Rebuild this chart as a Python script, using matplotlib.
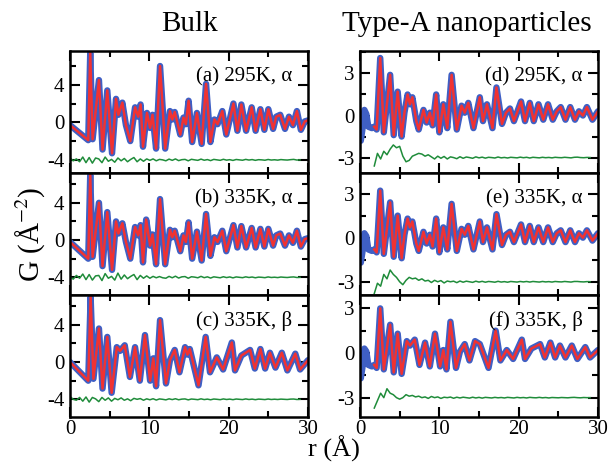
#!/usr/bin/env python3
# -*- coding: utf-8 -*-

import numpy as np
import matplotlib
matplotlib.use("Agg")
import matplotlib.pyplot as plt
from matplotlib.ticker import MultipleLocator

plt.rcParams["font.family"] = ["Liberation Serif", "DejaVu Serif"]
plt.rcParams["mathtext.fontset"] = "stix"
plt.rcParams["axes.unicode_minus"] = False

BLUE = "#3f5fc4"
RED = "#f03232"
GREEN = "#1f8c3a"

# ---- bulk, (a) 295K alpha: extrema of G(r) ----
R_A = [0.0, 2.3, 2.55, 2.85, 3.65, 4.1, 4.7, 5.3, 5.8, 6.1, 6.6, 7.05, 7.6, 8.2, 8.6, 8.9,
       9.2, 9.7, 10.1, 10.4, 10.85, 11.35, 12.0, 12.6, 12.9, 13.2, 13.9, 14.3, 14.6, 14.95,
       15.4, 16.0, 16.6, 17.15, 17.7, 18.2, 18.6, 19.2, 19.7, 20.6, 21.1, 21.6, 22.2, 22.9,
       23.4, 24.0, 24.5, 25.0, 25.6, 26.0, 26.5, 27.1, 27.6, 28.1, 28.6, 29.1, 29.6, 30.0]
G_A = [-0.3, -1.9, 7.4, -1.8, 4.5, -2.9, 3.4, -3.3, 2.5, 0.8, 2.1, -0.3, -2.0, 1.6, 0.6, 1.9,
       -2.6, 1.0, -0.6, 0.8, -2.8, 6.0, -2.8, 1.2, 0.3, 1.1, -1.3, 0.5, -0.2, 2.3,
       -2.1, 1.0, -2.3, 4.1, -2.1, 0.3, -0.2, 1.2, -1.3, 2.0, -0.9, 1.9, -0.9, 1.6,
       -0.9, 1.4, -0.8, 1.4, -0.7, 0.6, 0.8, -0.7, 0.6, -0.3, 1.2, -0.8, 0.1, 0.2]

# ---- bulk, (b) 335K alpha ----
R_B = [0.0, 2.3, 2.55, 2.85, 3.65, 4.1, 4.7, 5.3, 5.8, 6.1, 6.6, 7.05, 7.6, 8.2, 8.6, 8.9,
       9.2, 9.6, 10.1, 10.4, 10.85, 11.35, 12.0, 12.6, 12.9, 13.2, 13.9, 14.3, 14.6, 14.95,
       15.4, 16.0, 16.6, 17.15, 17.7, 18.2, 18.6, 19.2, 19.7, 20.6, 21.1, 21.6, 22.2, 22.9,
       23.4, 24.0, 24.5, 25.0, 25.6, 26.0, 26.5, 27.1, 27.6, 28.1, 28.6, 29.1, 29.6, 30.0]
G_B = [-0.2, -2.0, 7.0, -1.8, 4.0, -2.8, 3.0, -3.2, 2.0, 0.7, 1.8, -0.2, -2.0, 1.4, 0.5, 1.6,
       -2.4, 2.2, -0.6, 0.6, -2.6, 4.4, -2.6, 1.1, 0.3, 1.0, -1.2, 0.5, -0.2, 1.9,
       -2.0, 0.9, -2.2, 2.8, -1.7, 0.3, -0.2, 1.0, -1.2, 1.6, -0.8, 1.5, -0.8, 1.3,
       -0.8, 1.2, -0.7, 1.2, -0.6, 0.5, 0.7, -0.6, 0.5, -0.3, 1.0, -0.7, 0.1, 0.2]

# ---- bulk, (c) 335K beta ----
R_C = [0.0, 2.3, 2.6, 2.95, 3.65, 4.1, 4.7, 5.25, 5.9, 6.3, 6.9, 7.55, 8.2, 8.8, 9.45, 10.1,
       10.5, 10.85, 11.35, 12.1, 12.6, 13.2, 13.8, 14.5, 14.8, 15.1, 16.2, 17.1, 17.65, 18.5,
       19.3, 20.4, 20.8, 21.6, 22.7, 23.3, 24.0, 24.6, 25.2, 25.9, 26.7, 27.4, 28.4, 29.0, 30.0]
G_C = [0.0, -2.0, 7.0, -1.8, 3.6, -2.85, 2.7, -3.3, 1.6, 1.2, 1.8, -1.6, 1.6, -2.0, 2.9, -2.0,
       0.4, -2.6, 4.5, -2.3, 0.2, 1.3, -1.1, 1.6, 0.8, 1.4, -2.5, 2.7, -1.1, 0.5,
       -0.8, 2.1, -0.9, 0.7, 1.3, -0.7, 1.4, -0.7, 1.0, -0.6, 1.0, -0.9, 0.9, -0.8, 0.2]

# ---- nanoparticles, (d) 295K alpha ----
R_D = [0.0, 0.1, 0.3, 0.55, 0.8, 1.05, 1.5, 1.8, 2.1, 2.55, 3.0, 3.8, 4.25, 4.75, 5.25, 5.6,
       6.0, 6.3, 6.6, 7.1, 7.4, 8.0, 8.4, 8.8, 9.15, 9.6, 10.0, 10.5, 11.0, 11.55, 12.2,
       12.8, 13.2, 13.65, 14.3, 15.1, 15.5, 16.0, 16.7, 17.2, 17.9, 18.4, 18.9, 19.4, 20.3,
       20.8, 21.4, 21.9, 22.5, 23.1, 23.7, 24.3, 24.8, 25.3, 25.9, 26.5, 27.1, 27.6, 28.1,
       28.6, 29.3, 30.0]
G_D = [-0.2, -1.8, -1.0, 0.4, 0.1, -0.8, -0.9, -0.8, -1.0, 4.1, -1.2, 2.9, -1.4, 1.7, -1.5, 0.2,
       1.5, 0.8, 1.3, -0.4, -1.0, 0.4, -0.5, 0.2, -0.7, 1.5, -1.2, 0.8, -0.9, 2.9, -1.0,
       0.7, 0.2, 0.9, -0.9, 1.3, -0.4, 0.8, -0.9, 2.0, -0.6, 0.2, 0.5, -0.4, 1.0,
       -0.4, 0.9, -0.4, 0.8, -0.3, 0.8, -0.3, 0.3, 0.6, -0.3, 0.6, -0.3, 0.3, 0.0,
       0.6, -0.3, 0.3]

# ---- nanoparticles, (e) 335K alpha ----
R_E = [0.0, 0.1, 0.3, 0.55, 0.8, 1.05, 1.5, 1.8, 2.1, 2.55, 3.0, 3.8, 4.25, 4.75, 5.25, 5.6,
       6.0, 6.3, 6.6, 7.1, 7.4, 8.0, 8.4, 8.8, 9.15, 9.6, 10.0, 10.5, 11.0, 11.55, 12.2,
       12.8, 13.2, 13.65, 14.3, 15.1, 15.5, 16.0, 16.7, 17.2, 17.9, 18.4, 18.9, 19.4, 20.3,
       20.8, 21.4, 21.9, 22.5, 23.1, 23.7, 24.3, 24.8, 25.3, 25.9, 26.5, 27.1, 27.6, 28.1,
       28.6, 29.3, 30.0]
G_E = [-0.2, -1.7, -1.0, 0.3, 0.1, -0.8, -0.9, -0.8, -1.0, 3.2, -1.1, 2.4, -1.3, 1.5, -1.4, 0.2,
       1.3, 0.7, 1.1, -0.4, -0.9, 0.4, -0.4, 0.2, -0.6, 1.3, -1.0, 0.7, -0.8, 2.3, -0.9,
       0.6, 0.2, 0.8, -0.8, 1.1, -0.3, 0.7, -0.8, 1.6, -0.5, 0.2, 0.4, -0.3, 0.9,
       -0.3, 0.8, -0.3, 0.7, -0.3, 0.7, -0.3, 0.3, 0.5, -0.3, 0.5, -0.3, 0.3, 0.0,
       0.5, -0.2, 0.3]

# ---- nanoparticles, (f) 335K beta ----
R_F = [0.0, 0.1, 0.3, 0.55, 0.8, 1.05, 1.5, 1.8, 2.1, 2.55, 3.0, 3.8, 4.25, 4.75, 5.25, 5.9,
       6.3, 6.9, 7.5, 8.2, 8.8, 9.45, 10.1, 10.5, 10.9, 11.4, 12.1, 12.6, 13.2, 13.8, 14.5,
       15.1, 16.2, 17.1, 17.7, 18.5, 19.3, 20.4, 20.8, 21.6, 22.7, 23.3, 24.0, 24.6, 25.2,
       25.9, 26.7, 27.4, 28.4, 29.0, 30.0]
G_F = [-0.2, -1.7, -1.0, 0.3, 0.1, -0.8, -0.9, -0.8, -1.0, 3.0, -1.1, 1.9, -1.3, 1.3, -1.4, 0.8,
       0.5, 0.9, -0.8, 0.7, -0.9, 1.3, -0.9, 0.2, -1.1, 2.1, -1.0, 0.1, 0.6, -0.5, 0.8,
       0.6, -1.0, 1.5, -0.5, 0.2, -0.4, 0.9, -0.4, 0.3, 0.6, -0.3, 0.7, -0.3, 0.5,
       -0.3, 0.5, -0.4, 0.4, -0.3, 0.2]

# difference curves (data - fit), drawn shifted below each pattern
DIFF_A = [0.2, -0.1, 0.1, -0.2, 0.3, -0.3, 0.25, -0.35, 0.2, 0.1, -0.3, 0.3, -0.15, 0.05,
          -0.25, 0.2, -0.1, 0.15, -0.2, 0.05, 0.25, -0.2, 0.1, -0.15, 0.1, -0.05, 0.1, -0.1,
          0.05, 0.0, -0.1, 0.08, -0.05, 0.1, -0.08, 0.02, 0.05, -0.1, 0.06, 0.0, -0.05, 0.08,
          -0.04, 0.03, -0.08, 0.05, 0.0, -0.05, 0.06, -0.03, 0.02, -0.06, 0.04, 0.0, -0.04,
          0.05, -0.02, 0.03, -0.05, 0.02, 0.0, -0.04, 0.04, -0.02, 0.01, -0.03, 0.03, 0.0,
          -0.02, 0.02, 0.05, -0.02, 0.0]
DIFF_B = [0.1, -0.2, 0.2, -0.1, 0.35, -0.25, 0.3, -0.3, 0.15, 0.2, -0.35, 0.4, -0.1, 0.1,
          -0.3, 0.45, -0.2, 0.25, -0.15, 0.1, 0.3, -0.25, 0.2, -0.1, 0.15, -0.1, 0.1, -0.05,
          0.08, -0.05, -0.1, 0.1, -0.05, 0.12, -0.08, 0.05, 0.08, -0.1, 0.06, 0.02, -0.05, 0.1,
          -0.04, 0.05, -0.08, 0.05, 0.0, -0.05, 0.06, -0.03, 0.04, -0.06, 0.04, 0.0, -0.04,
          0.05, -0.02, 0.03, -0.05, 0.02, 0.0, -0.04, 0.04, -0.02, 0.01, -0.03, 0.03, 0.0,
          -0.02, 0.02, 0.04, -0.02, 0.0]
DIFF_C = [0.3, 0.0, -0.1, 0.2, -0.2, 0.25, -0.3, 0.2, 0.05, -0.25, 0.2, -0.1, 0.15, -0.2,
          0.1, -0.05, 0.15, -0.1, 0.05, -0.15, 0.1, 0.0, 0.08, -0.1, 0.05, -0.05, 0.06, -0.08,
          0.04, 0.0, -0.06, 0.05, -0.03, 0.06, -0.05, 0.02, 0.04, -0.06, 0.03, 0.0, -0.04, 0.05,
          -0.03, 0.02, -0.05, 0.03, 0.0, -0.04, 0.04, -0.02, 0.02, -0.04, 0.03, 0.0, -0.03,
          0.04, -0.02, 0.02, -0.04, 0.02, 0.0, -0.03, 0.03, -0.02, 0.01, -0.02, 0.02, 0.0,
          -0.02, 0.02, 0.03, -0.02, 0.0]
DIFF_D = [-0.6, 0.3, -0.1, 0.45, 0.2, 0.6, 0.9, 0.7, 0.8, 0.1, -0.3, -0.2, 0.1, 0.2, 0.3,
          0.25, 0.1, 0.2, 0.05, -0.1, 0.1, -0.05, 0.08, -0.1, 0.05, 0.0, -0.08, 0.06, -0.05,
          0.04, 0.0, -0.05, 0.05, -0.02, 0.03, -0.04, 0.02, 0.0, -0.03, 0.04, -0.02, 0.01,
          -0.03, 0.02, 0.0, -0.02, 0.03, -0.01, 0.02, -0.03, 0.02, 0.0, -0.02, 0.02, -0.01,
          0.01, -0.02, 0.02, 0.0, -0.01, 0.02, 0.0, -0.02, 0.02, 0.03, 0.0, -0.01, 0.01, 0.0]
DIFF_E = [-0.8, -0.1, -0.3, 0.5, 0.2, 0.8, 0.5, 0.3, 0.0, -0.2, 0.1, 0.3, 0.2, 0.25, 0.1,
          0.2, 0.05, 0.1, -0.05, 0.1, 0.0, 0.08, -0.08, 0.05, 0.0, 0.04, -0.06, 0.05, -0.03,
          0.04, 0.0, -0.04, 0.04, -0.02, 0.03, -0.03, 0.02, 0.0, -0.03, 0.03, -0.02, 0.01,
          -0.03, 0.02, 0.0, -0.02, 0.02, -0.01, 0.02, -0.02, 0.02, 0.0, -0.02, 0.02, -0.01,
          0.01, -0.02, 0.02, 0.0, -0.01, 0.02, 0.0, -0.02, 0.02, 0.02, 0.0, -0.01, 0.01, 0.0]
DIFF_F = [-0.7, -0.2, 0.3, 0.0, 0.6, 0.3, 0.2, 0.0, -0.1, 0.0, 0.2, 0.1, 0.15, 0.05, 0.1,
          0.0, 0.05, -0.05, 0.08, 0.0, 0.05, -0.05, 0.03, 0.0, 0.04, -0.04, 0.03, -0.02,
          0.03, 0.0, -0.03, 0.03, -0.02, 0.02, -0.03, 0.02, 0.0, -0.02, 0.02, -0.01, 0.01,
          -0.02, 0.02, 0.0, -0.02, 0.02, -0.01, 0.01, -0.02, 0.02, 0.0, -0.01, 0.02, -0.01,
          0.01, -0.02, 0.01, 0.0, -0.01, 0.01, 0.0, -0.01, 0.01, 0.02, 0.0, -0.01, 0.01, 0.0, 0.0]

BULK_DIFF_OFFSET = -4.0
NANO_DIFF_OFFSET = -3.0
NANO_FIT_START = 1.8    # fit range of the nanoparticle refinements starts here

PANELS = [
    # (r, G, diff, label, kind, ylim)
    (R_A, G_A, DIFF_A, "(a) 295K, α", "bulk", (-5.4, 7.6)),
    (R_B, G_B, DIFF_B, "(b) 335K, α", "bulk", (-5.9, 7.2)),
    (R_C, G_C, DIFF_C, "(c) 335K, β", "bulk", (-5.9, 7.2)),
    (R_D, G_D, DIFF_D, "(d) 295K, α", "nano", (-4.1, 4.6)),
    (R_E, G_E, DIFF_E, "(e) 335K, α", "nano", (-3.9, 4.4)),
    (R_F, G_F, DIFF_F, "(f) 335K, β", "nano", (-4.3, 3.9)),
]

W, H = 611, 463


def draw_panel(ax, r, g, diff, label, kind, ylim, bottom_row):
    r = np.asarray(r)
    g = np.asarray(g)
    diff = np.asarray(diff)

    if kind == "bulk":
        r_fit, g_fit = r, g
        r_diff = np.linspace(0.0, 29.0, len(diff))
        offset = BULK_DIFF_OFFSET
    else:
        keep = r >= NANO_FIT_START
        r_fit, g_fit = r[keep], g[keep]
        r_diff = np.linspace(NANO_FIT_START, 29.0, len(diff))
        offset = NANO_DIFF_OFFSET

    ax.plot(r, g, color=BLUE, lw=4.6, solid_joinstyle="round", solid_capstyle="round")
    ax.plot(r_fit, g_fit, color=RED, lw=1.8, solid_joinstyle="round")
    ax.plot(r_diff, diff + offset, color=GREEN, lw=1.1)

    ax.set_xlim(0, 30)
    ax.set_ylim(*ylim)
    ax.xaxis.set_major_locator(MultipleLocator(10))
    ax.xaxis.set_minor_locator(MultipleLocator(5))
    if kind == "bulk":
        ax.set_yticks([-4, 0, 4])
        ax.yaxis.set_minor_locator(MultipleLocator(2))
    else:
        ax.set_yticks([-3, 0, 3])
        ax.yaxis.set_minor_locator(MultipleLocator(1.5))

    ax.tick_params(which="both", direction="in", top=True, right=True, width=1.5,
                   labelsize=15, pad=4)
    ax.tick_params(axis="x", pad=2)
    ax.tick_params(which="major", length=7)
    ax.tick_params(which="minor", length=4)
    if not bottom_row:
        ax.tick_params(labelbottom=False)
    for sp in ax.spines.values():
        sp.set_linewidth(1.8)

    ax.text(0.935, 0.79, label, transform=ax.transAxes, ha="right", va="center", fontsize=15)


def main():
    fig = plt.figure(figsize=(W / 100, H / 100), dpi=100)

    top, bottom = 51, 417
    ph = (bottom - top) / 3
    col_left = [70, 360]
    col_w = 238

    for i, (r, g, diff, label, kind, ylim) in enumerate(PANELS):
        col = 0 if kind == "bulk" else 1
        row = i % 3
        y_bot = top + (row + 1) * ph      # pixel row of the panel's lower edge
        ax = fig.add_axes([col_left[col] / W, 1 - y_bot / H, col_w / W, ph / H])
        draw_panel(ax, r, g, diff, label, kind, ylim, bottom_row=(row == 2))

    fig.text(190 / W, 1 - 24 / H, "Bulk", ha="center", va="center", fontsize=21)
    fig.text(467 / W, 1 - 24 / H, "Type-A nanoparticles", ha="center", va="center", fontsize=21)
    fig.text(334 / W, 1 - 462 / H, "r (Å)", ha="center", va="bottom", fontsize=19)
    fig.text(30 / W, 1 - 234 / H, "G (Å$^{-2}$)", ha="center", va="center",
             rotation=90, fontsize=21)

    fig.savefig("out.png", dpi=100)
    plt.close(fig)


if __name__ == "__main__":
    main()
